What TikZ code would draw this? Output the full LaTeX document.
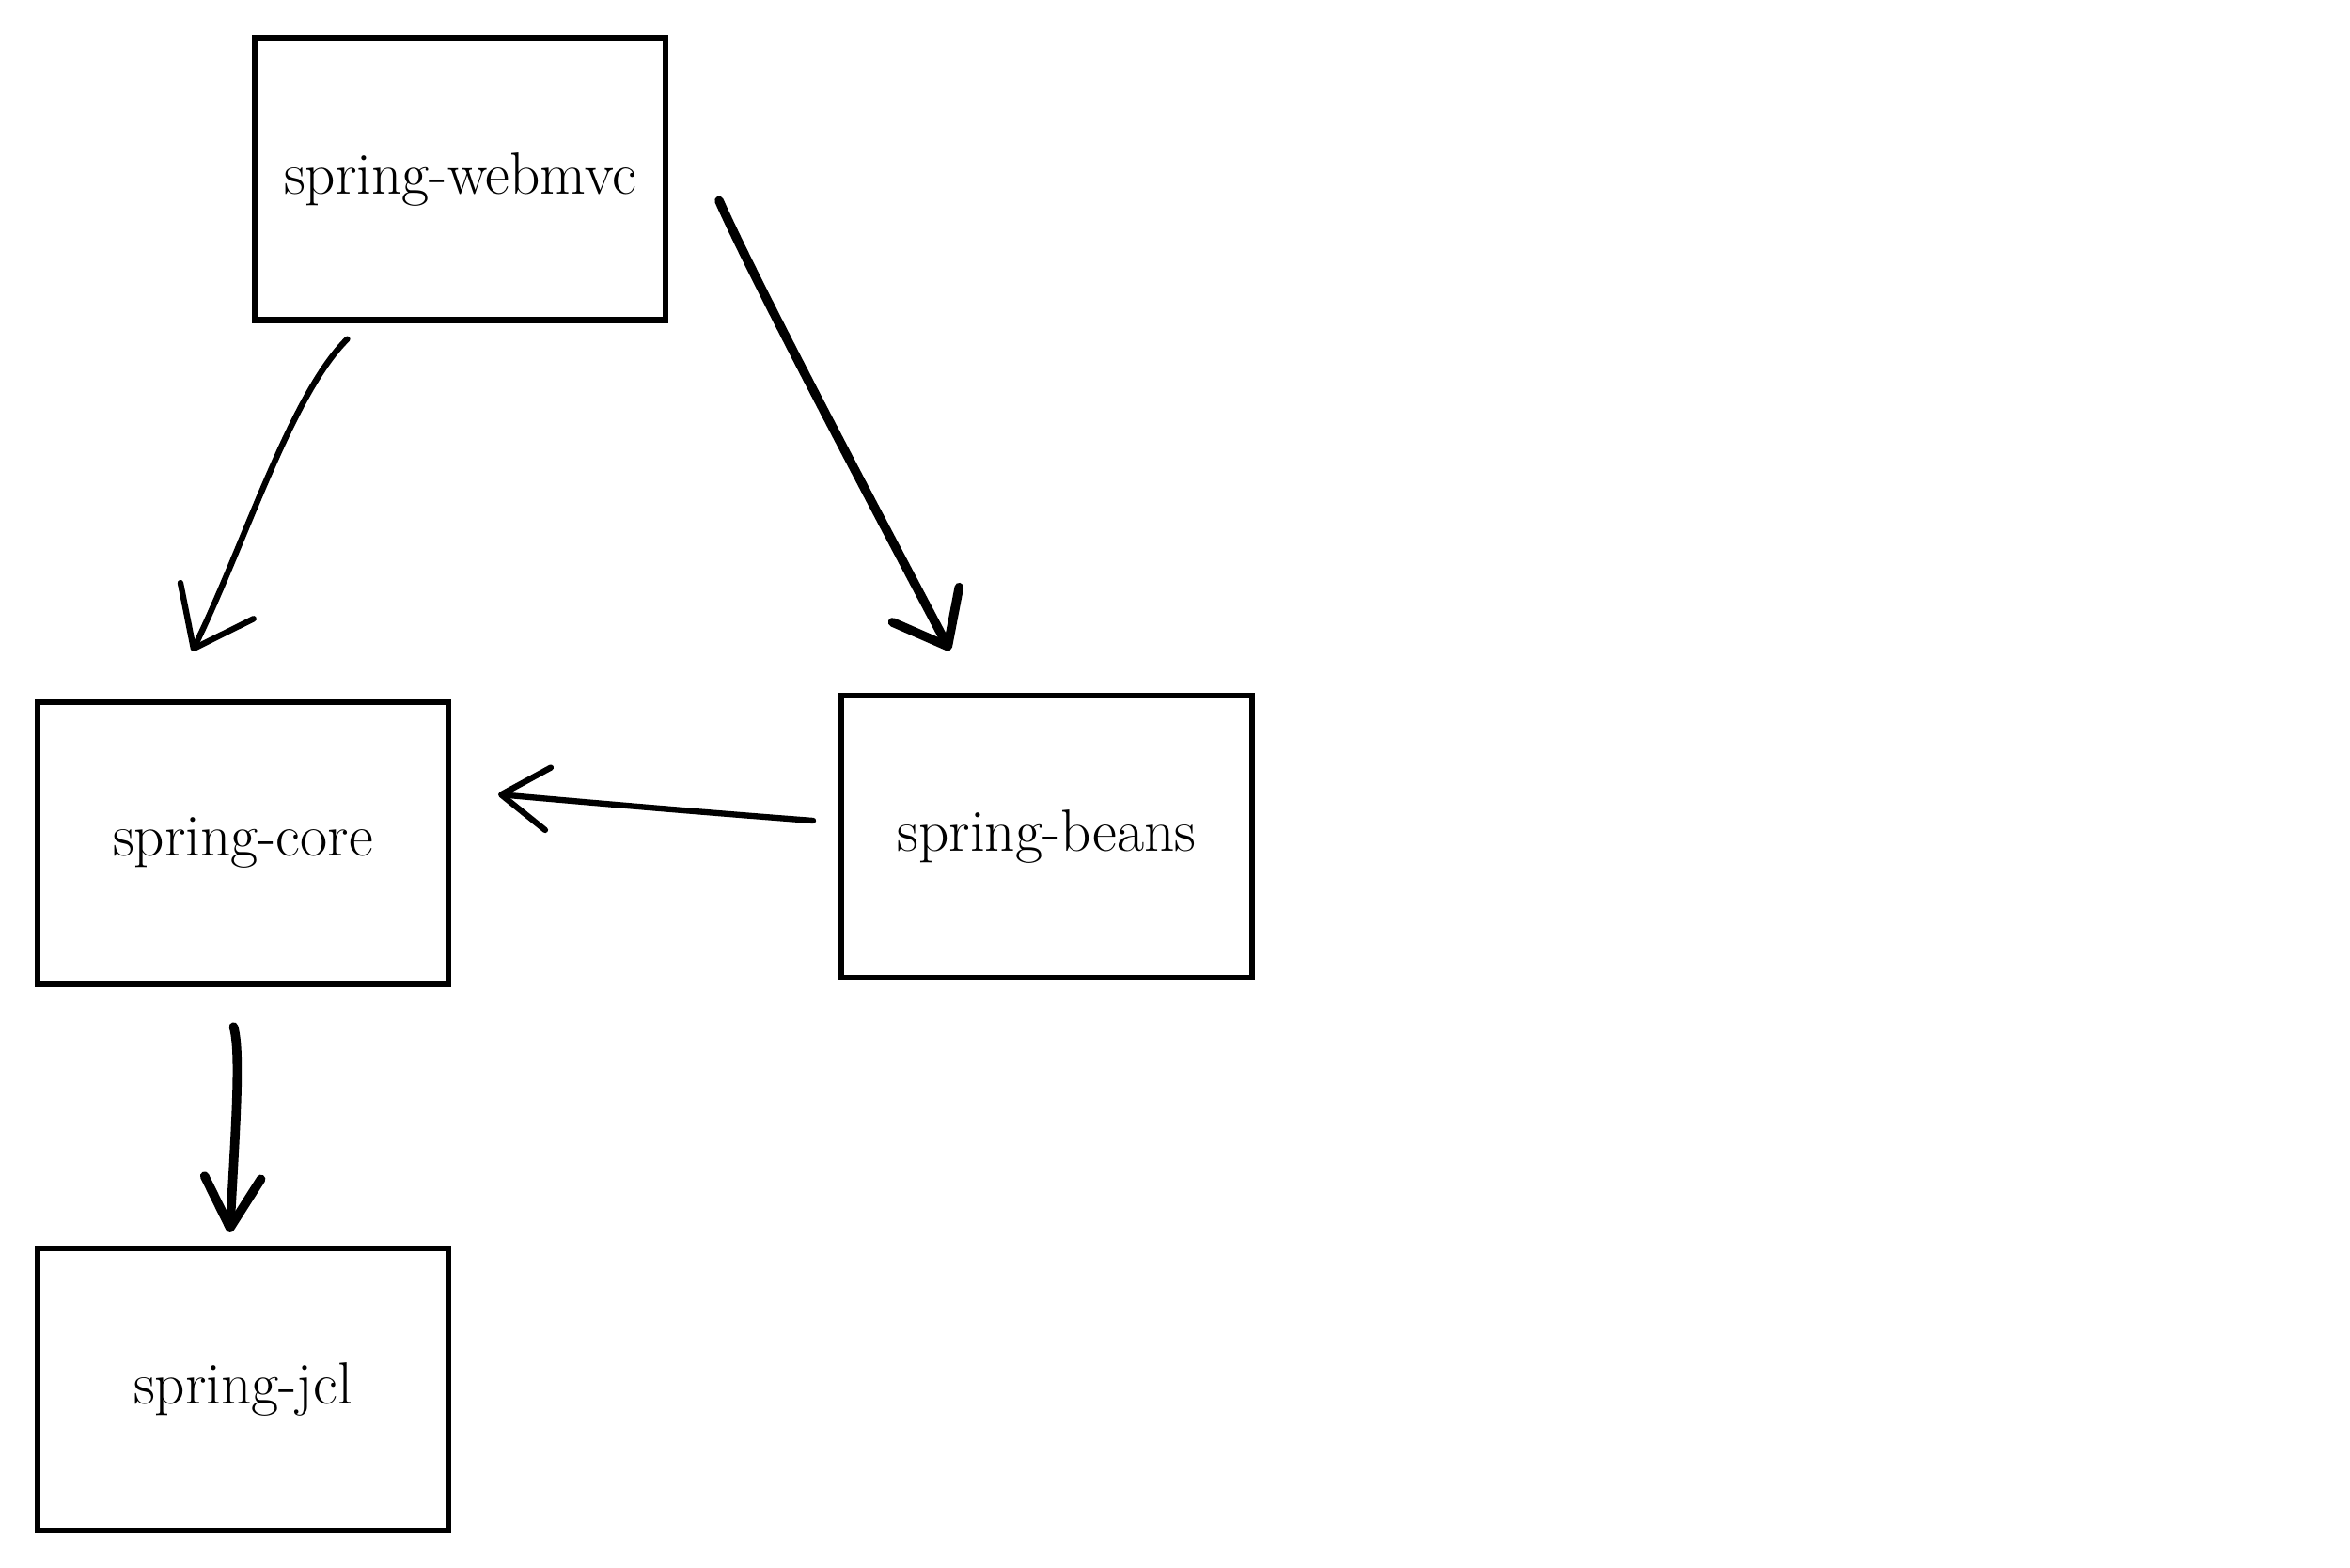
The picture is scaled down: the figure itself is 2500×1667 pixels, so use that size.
\documentclass[tikz,border=0pt]{standalone}
\usetikzlibrary{arrows.meta}
\tikzset{
  module/.style={draw,line width=1.9pt,minimum width=131pt,minimum height=90pt,
    inner sep=0pt,font=\fontsize{19}{23}\selectfont},
  dep/.style={line width=1.9pt,line cap=round,line join=round,
    -{Straight Barb[length=17pt,width=26pt,line cap=round,line join=round]}},
  heavydep/.style={dep,line width=2.9pt}
}
\begin{document}
\begin{tikzpicture}[x={(0.3pt,0pt)},y={(0pt,-0.3pt)}]
    \useasboundingbox (0,0) rectangle (2500,1667);
    % the modules
    \node[module] (webmvc) at (489.5,190.5) {spring-webmvc};
    \node[module] (core)   at (258.5,897)   {spring-core};
    \node[module] (beans)  at (1113.5,890)  {spring-beans};
    \node[module] (jcl)    at (258.5,1478)  {spring-jcl};

    % dependencies between them
    \draw[dep] ([shift={(-120,17)}]webmvc.south) .. controls +(-60,59) and +(55,-112) .. ([shift={(-54,-51)}]core.north);
    \draw[heavydep,-{Straight Barb[length=15pt,width=24pt,line cap=round,line join=round]}]
      ([shift={(54,23)}]webmvc.east) .. controls +(45,100) and +(-80,-152) .. ([shift={(-103,-45)}]beans.north);
    \draw[dep,-{Straight Barb[length=15pt,width=20pt,line cap=round,line join=round]}]
      ([shift={(-27,-17)}]beans.west) .. controls +(-105,-8) and +(111,10) .. ([shift={(50,-52)}]core.east);
    \draw[heavydep,-{Straight Barb[length=16pt,width=18pt,line cap=round,line join=round]}]
      ([shift={(-10,42)}]core.south) .. controls +(8,27) and +(6,-111) .. ([shift={(-14,-14)}]jcl.north);
\end{tikzpicture}
\end{document}
